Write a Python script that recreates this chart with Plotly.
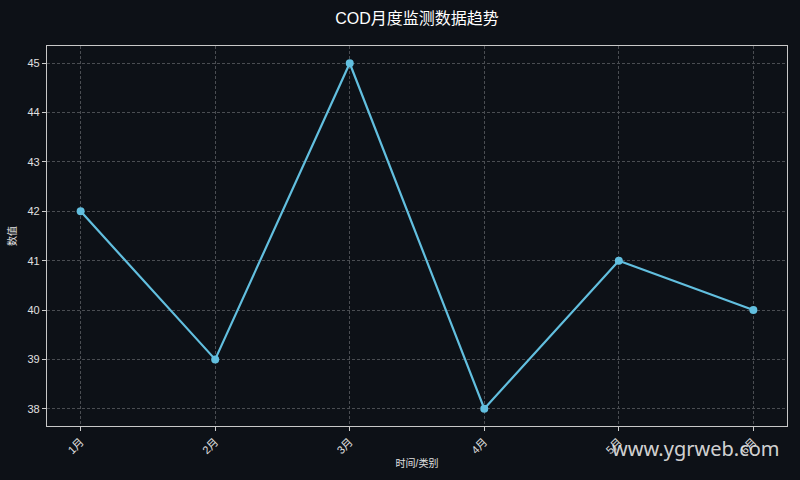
import plotly.graph_objects as go

categories = ["1月", "2月", "3月", "4月", "5月", "6月"]
values = [42, 39, 45, 38, 41, 40]
y_ticks = [38, 39, 40, 41, 42, 43, 44, 45]

BG = "#0d1117"
FONT = "Liberation Sans, Noto Sans CJK SC, sans-serif"

fig = go.Figure()
fig.add_trace(go.Scatter(
    x=list(range(len(categories))), y=values, mode="lines+markers",
    line=dict(color="#62bfdf", width=2.2),
    marker=dict(color="#62bfdf", size=8),
    showlegend=False,
))

axis_common = dict(
    showline=True, linecolor="#c8c8c8", linewidth=1.2, mirror=True,
    showgrid=True, gridcolor="#4a4d52", griddash="3px,2px", gridwidth=1,
    ticks="outside", ticklen=4, tickcolor="#cccccc",
    tickfont=dict(color="#e0e0e0", size=11, family=FONT),
    zeroline=False,
)

fig.update_layout(
    width=800, height=480,
    paper_bgcolor=BG, plot_bgcolor=BG,
    margin=dict(l=46, r=12, t=46, b=54),
    title=dict(text="COD月度监测数据趋势", xref="paper", x=0.5, xanchor="center",
               y=0.962, yanchor="middle",
               font=dict(color="#ffffff", size=16, family=FONT)),
    font=dict(family=FONT, color="#e0e0e0"),
)
fig.update_xaxes(
    **axis_common,
    tickmode="array", tickvals=list(range(len(categories))), ticktext=categories,
    range=[-0.25, len(categories) - 1 + 0.25], tickangle=-45,
    title=dict(text="时间/类别", font=dict(size=10, color="#e0e0e0"), standoff=4),
)
fig.update_yaxes(
    **axis_common,
    tickmode="array", tickvals=y_ticks,
    range=[37.65, 45.35],
    title=dict(text="数值", font=dict(size=10, color="#e0e0e0"), standoff=8),
)
fig.add_annotation(
    text="www.ygrweb.com", xref="paper", yref="paper", x=0.993, y=-0.058,
    xanchor="right", yanchor="middle", showarrow=False,
    font=dict(size=20, color="rgba(235,235,235,0.9)", family="Noto Sans, DejaVu Sans, sans-serif"),
)

fig.write_html(
    "out.html",
    config={"displayModeBar": False},
    post_script="document.body.style.margin='0';document.body.style.background='#0d1117';",
)
